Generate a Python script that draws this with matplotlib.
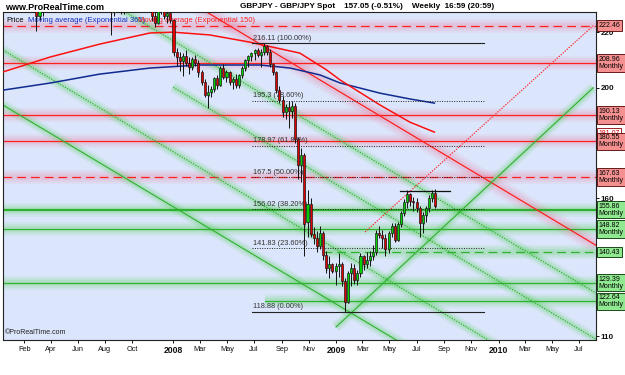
import matplotlib
matplotlib.use('Agg')
import matplotlib.pyplot as plt
import matplotlib.transforms as mtrans
import matplotlib.dates as mdates
import numpy as np
import pandas as pd

plt.rcParams['font.family'] = ['Liberation Sans', 'DejaVu Sans']

# ---------------- data ----------------
week_start = '2006-12-18'
opens = [231.0, 232.5, 233.0, 232.0, 236.5, 240.0, 237.5, 238.5, 235.5, 236.0,
         234.0, 226.0, 228.5, 229.5, 231.5, 233.0, 234.5, 236.0, 237.0, 236.5,
         238.5, 239.5, 238.5, 240.5, 242.5, 242.0, 244.5, 245.5, 247.0, 248.5,
         250.0, 248.5, 240.5, 238.0, 235.5, 227.5, 231.5, 229.5, 228.5, 230.5,
         233.5, 235.0, 237.5, 236.5, 232.0, 235.0, 236.5, 229.5, 226.0, 223.5,
         228.0, 230.0, 226.0, 227.0, 224.5,
         213.0, 211.0, 209.5, 211.5, 209.0, 207.5, 210.5, 209.0, 205.5, 202.0,
         197.5, 198.5, 199.5, 203.5, 201.0, 207.0, 204.0, 205.5, 202.0, 203.0,
         201.0, 204.5, 207.0, 210.0, 211.5, 212.5, 213.5, 212.0, 213.0, 215.0,
         213.0, 208.5, 205.5, 199.0, 195.5, 191.0, 193.0, 191.5, 193.5, 181.5,
         172.0, 175.5, 151.5, 158.0, 147.0, 145.5, 142.5, 147.5, 139.5, 134.5,
         136.0, 133.5, 135.5, 136.0, 130.0, 122.5, 133.0, 134.5, 130.5, 133.0,
         139.0, 136.0, 137.5, 139.0, 140.5, 147.5, 146.5, 145.5, 141.5, 147.5,
         150.0, 145.0, 150.5, 154.5, 158.5, 161.5, 159.0, 158.5, 156.5, 151.0,
         154.0, 156.5, 160.0, 162.0]
highs = [233.5, 234.0, 234.5, 237.0, 241.0, 240.5, 239.5, 239.5, 237.5, 238.5,
         234.5, 229.5, 230.5, 232.5, 234.0, 235.5, 237.0, 238.0, 238.0, 239.0,
         240.0, 241.0, 241.0, 243.0, 243.5, 245.0, 246.0, 247.5, 249.5, 251.0,
         251.1, 249.0, 243.5, 240.5, 236.0, 233.0, 233.5, 232.0, 231.0, 234.5,
         236.0, 238.5, 239.0, 237.5, 236.0, 238.0, 237.5, 230.5, 227.5, 229.0,
         231.5, 231.0, 228.0, 227.5, 225.0,
         214.5, 213.0, 212.5, 213.5, 211.0, 211.0, 212.0, 210.0, 206.5, 203.0,
         201.0, 200.5, 204.0, 204.5, 208.0, 208.5, 206.5, 206.0, 204.0, 205.0,
         205.0, 208.0, 210.5, 212.0, 213.0, 214.0, 214.5, 214.0, 216.11, 215.5,
         214.0, 209.0, 206.0, 200.5, 197.0, 194.0, 195.0, 195.0, 194.5, 182.0,
         178.0, 176.5, 163.0, 160.0, 149.5, 148.0, 150.0, 148.0, 141.0, 139.0,
         136.5, 136.5, 140.0, 137.0, 131.0, 133.5, 136.5, 136.0, 134.0, 140.0,
         139.5, 140.5, 141.0, 143.0, 148.5, 150.0, 148.5, 147.0, 148.0, 151.0,
         151.0, 151.5, 155.5, 159.5, 163.1, 162.0, 160.5, 160.0, 157.0, 155.0,
         157.0, 161.0, 163.1, 163.3]
lows = [230.0, 231.5, 230.5, 231.0, 235.5, 236.0, 235.0, 234.0, 233.5, 233.0,
        220.5, 224.5, 225.8, 228.5, 230.0, 232.0, 233.5, 234.0, 235.5, 235.5,
        237.0, 237.5, 237.0, 240.0, 240.5, 241.5, 243.5, 244.5, 246.0, 247.0,
        247.5, 239.5, 236.0, 233.0, 219.2, 226.0, 227.5, 226.5, 226.8, 229.5,
        232.5, 234.0, 235.5, 230.5, 230.0, 233.5, 228.0, 224.0, 222.0, 223.0,
        226.5, 225.0, 223.5, 223.5, 211.5,
        208.0, 206.0, 204.3, 208.0, 204.8, 206.5, 208.0, 204.0, 201.0, 196.5,
        192.6, 196.5, 198.5, 199.5, 200.5, 203.0, 202.0, 201.0, 199.5, 200.0,
        200.0, 203.5, 206.0, 207.5, 209.5, 210.0, 211.0, 207.5, 212.0, 212.0,
        207.5, 204.5, 198.0, 194.5, 189.5, 188.5, 185.5, 189.0, 180.0, 167.0,
        166.0, 139.0, 146.0, 146.0, 143.5, 140.5, 141.5, 137.5, 133.0, 131.0,
        133.0, 128.5, 131.5, 128.0, 118.88, 122.0, 128.0, 129.0, 128.5, 131.5,
        134.0, 134.5, 135.5, 137.5, 139.5, 145.5, 142.0, 139.0, 140.0, 146.0,
        144.0, 144.5, 149.5, 153.5, 156.5, 157.0, 155.5, 155.0, 146.0, 147.5,
        151.5, 155.0, 158.5, 156.5]
closes = [232.5, 233.0, 232.0, 236.5, 240.0, 237.5, 238.5, 235.5, 236.0, 234.0,
          226.0, 228.5, 229.5, 231.5, 233.0, 234.5, 236.0, 237.0, 236.5, 238.5,
          239.5, 238.5, 240.5, 242.5, 242.0, 244.5, 245.5, 247.0, 248.5, 250.0,
          248.5, 240.5, 238.0, 235.5, 227.5, 231.5, 229.5, 228.5, 230.5, 233.5,
          235.0, 237.5, 236.5, 232.0, 235.0, 236.5, 229.5, 226.0, 223.5, 228.0,
          230.0, 226.0, 227.0, 224.5, 213.0,
          211.0, 209.5, 211.5, 209.0, 207.5, 210.5, 209.0, 205.5, 202.0, 197.5,
          198.5, 199.5, 203.5, 201.0, 207.0, 204.0, 205.5, 202.0, 203.0, 201.0,
          204.5, 207.0, 210.0, 211.5, 212.5, 213.5, 212.0, 213.0, 215.0, 213.0,
          208.5, 205.5, 199.0, 195.5, 191.0, 193.0, 191.5, 193.5, 181.5, 172.0,
          175.5, 150.5, 158.0, 147.0, 145.5, 142.5, 147.5, 139.5, 134.5, 136.0,
          133.5, 135.5, 136.0, 130.0, 122.5, 133.0, 134.5, 130.5, 133.0, 139.0,
          136.0, 137.5, 139.0, 140.5, 147.5, 146.5, 145.5, 141.5, 147.5, 150.0,
          145.0, 150.5, 154.5, 158.5, 161.5, 159.0, 158.5, 156.5, 151.0, 154.0,
          156.5, 160.0, 162.0, 157.05]

ema365_dates = ['2006-12-15', '2007-04-01', '2007-07-20', '2007-11-10', '2008-03-01',
                '2008-07-15', '2008-09-20', '2008-11-26', '2009-01-10', '2009-04-10',
                '2009-06-16', '2009-08-10']
ema365_vals = [199.1, 201.7, 204.9, 207.1, 208.2, 208.2, 207.1, 204.6, 201.7, 198.0,
               195.9, 194.4]
ema150_dates = ['2006-12-15', '2007-03-31', '2007-07-21', '2007-11-10', '2008-01-01',
                '2008-03-23', '2008-06-21', '2008-10-12', '2008-12-11', '2009-01-10',
                '2009-04-10', '2009-06-16', '2009-08-10']
ema150_vals = [205.7, 211.1, 215.8, 219.8, 220.1, 219.1, 216.5, 212.5, 206.4, 202.8,
               193.7, 187.5, 183.9]

red_levels = [222.46, 208.96, 190.13, 180.55, 167.63]
red_dashed = [True, False, False, False, True]
red_tags = ['222.46', '208.96\nMonthly', '190.13\nMonthly', '180.55\nMonthly', '167.63\nMonthly']
hidden_tag, hidden_tag_pos = '181.07', 183.4
green_levels = [155.86, 148.82, 140.43, 129.39, 122.64]
green_dashed = [False, False, True, False, False]
green_from = [None, None, '2008-12-03', None, '2008-07-26']
green_tags = ['155.86\nMonthly', '148.82\nMonthly', '140.43', '129.39\nMonthly', '122.64\nMonthly']

fib_levels = [216.11, 195.3, 178.97, 167.5, 156.02, 141.83, 118.88]
fib_pcts = ['100.00%', '78.60%', '61.80%', '50.00%', '38.20%', '23.60%', '0.00%']
fib_solid = [True, False, False, False, False, False, True]
fib_from, fib_to = '2008-06-26', '2009-11-30'

resist_level = 162.7
resist_from, resist_to = '2009-05-25', '2009-09-15'

# trend lines: start date, start price, end date, end price
trend_d0 = ['2008-02-08', '2009-03-07', '2009-01-01', '2006-12-15', '2006-12-15', '2006-12-15', '2008-01-01']
trend_p0 = [231.0, 147.7, 113.3, 193.7, 213.6, 253.8, 200.2]
trend_d1 = ['2010-08-08', '2010-08-02', '2010-08-02', '2010-08-15', '2010-08-15', '2010-08-15', '2010-08-15']
trend_p1 = [142.9, 222.46, 200.0, 64.7, 84.6, 124.9, 108.2]
trend_kind = ['red', 'reddot', 'green', 'green', 'greendot', 'greendot', 'greendot']

xtick_dates = ['2007-02-01', '2007-04-01', '2007-06-01', '2007-08-01', '2007-10-01',
               '2008-01-01', '2008-03-01', '2008-05-01', '2008-07-01', '2008-09-01', '2008-11-01',
               '2009-01-01', '2009-03-01', '2009-05-01', '2009-07-01', '2009-09-01', '2009-11-01',
               '2010-01-01', '2010-03-01', '2010-05-01', '2010-07-01']
xtick_labels = ['Feb', 'Apr', 'Jun', 'Aug', 'Oct', '2008', 'Mar', 'May', 'Jul', 'Sep', 'Nov',
                '2009', 'Mar', 'May', 'Jul', 'Sep', 'Nov', '2010', 'Mar', 'May', 'Jul']
ytick_vals = [110, 120, 130, 140, 150, 160, 170, 180, 190, 200, 210, 220]
ytick_shown = [110, 160, 200, 210, 220]

x_lim = ('2006-12-15', '2010-08-08')
y_lim = (108.6, 227.4)

# ---------------- figure ----------------
fig = plt.figure(figsize=(6.25, 3.75), dpi=100)
fig.patch.set_facecolor('white')
ax = fig.add_axes([3/625, 1-340/375, 593/625, 328/375])
ax.set_facecolor('#dbe5fb')

D = lambda s: mdates.date2num(pd.Timestamp(s))
ax.set_xlim(D(x_lim[0]), D(x_lim[1]))
ax.set_ylim(*y_lim)
x0, x1 = ax.get_xlim()

RED, RGLOW = '#ff2020', '#f07090'
GRN, GGLOW = '#30b030', '#40d040'

def glow_line(xs, ys, color, glow, dashes=None, lw=1.0, gl=1.0):
    for w, a in [(10, 0.08), (7, 0.10), (4, 0.14)]:
        ax.plot(xs, ys, color=glow, lw=w * gl, alpha=a, solid_capstyle='butt', zorder=1)
    ln, = ax.plot(xs, ys, color=color, lw=lw, zorder=2)
    if dashes:
        ln.set_dashes(dashes)

for lev, dsh in zip(red_levels, red_dashed):
    glow_line([x0, x1], [lev, lev], RED, RGLOW, dashes=(7, 4) if dsh else None, lw=0.9)
for lev, dsh, st in zip(green_levels, green_dashed, green_from):
    xs = D(st) if st else x0
    lw = 1.6 if lev == green_levels[0] else 0.9
    glow_line([xs, x1], [lev, lev], GRN, GGLOW, dashes=(7, 4) if dsh else None, lw=lw)

for d0, p0, d1, p1, k in zip(trend_d0, trend_p0, trend_d1, trend_p1, trend_kind):
    if k == 'red':
        glow_line([D(d0), D(d1)], [p0, p1], RED, RGLOW, lw=0.9, gl=1.2)
    elif k == 'reddot':
        ln, = ax.plot([D(d0), D(d1)], [p0, p1], color=RED, lw=0.8, zorder=2)
        ln.set_dashes((1.2, 1.2))
    elif k == 'green':
        glow_line([D(d0), D(d1)], [p0, p1], GRN, GGLOW, lw=0.8, gl=0.8)
    else:
        glow_line([D(d0), D(d1)], [p0, p1], GRN, GGLOW, dashes=(1.2, 1.2), lw=0.8, gl=0.8)

# moving averages
ax.plot([D(d) for d in ema365_dates], ema365_vals, color='#102a90', lw=1.1, zorder=3)
ax.plot([D(d) for d in ema150_dates], ema150_vals, color='#ff1010', lw=1.1, zorder=3)

# fibonacci
for lev, pct, solid in zip(fib_levels, fib_pcts, fib_solid):
    ln, = ax.plot([D(fib_from), D(fib_to)], [lev, lev], color='#222222', lw=0.8 if solid else 0.7, zorder=4)
    if not solid:
        ln.set_dashes((1.0, 1.5))
    lab = f'{lev:g} ({pct})'
    ax.text(D(fib_from) + 3, lev + 0.5, lab, fontsize=5.3, color='#333333', va='bottom', ha='left', zorder=4)

ax.plot([D(resist_from), D(resist_to)], [resist_level, resist_level], color='#111111', lw=0.9, zorder=4)

# candles
wd = np.array([D(d) for d in pd.date_range(week_start, periods=len(opens), freq='7D')]) + 2
o, h, l, c = map(np.array, (opens, highs, lows, closes))
up = c >= o
ax.bar(wd + 1.8, np.abs(c - o), bottom=np.minimum(o, c) - 0.8, width=4.2,
       color='#a8a8b0', edgecolor='none', zorder=4.5)
ax.vlines(wd, l, h, color='#111111', lw=0.7, zorder=5)
ax.bar(wd, np.maximum(np.abs(c - o), 0.2), bottom=np.minimum(o, c), width=4.6,
       color=np.where(up, '#00d000', '#e00000'), edgecolor='#111111', linewidth=0.45, zorder=6)

# legend-ish labels inside top-left
ax.text(0.006, 0.985, 'Price', transform=ax.transAxes, fontsize=5.5, va='top', color='black', zorder=3.5)
ax.text(0.042, 0.985, 'Moving average (Exponential 365)', transform=ax.transAxes, fontsize=5.5,
        va='top', color='#1030c0', zorder=3.5)
ax.text(0.228, 0.985, 'Moving average (Exponential 150)', transform=ax.transAxes, fontsize=5.5,
        va='top', color='#ff2020', zorder=3.5)
ax.text(0.004, 0.012, '©ProRealTime.com', transform=ax.transAxes, fontsize=5, va='bottom', color='#222222')

# axes styling
for s in ax.spines.values():
    s.set_color('#222222')
    s.set_linewidth(0.8)
ax.yaxis.tick_right()
ax.set_yticks(ytick_vals)
ax.set_yticklabels([str(v) if v in ytick_shown else '' for v in ytick_vals], fontsize=5.8, fontweight='bold')
ax.tick_params(axis='y', length=2.5, width=0.7, pad=0.8, colors='#111111')
ax.set_xticks([D(d) for d in xtick_dates])
ax.set_xticklabels(xtick_labels, fontsize=5.3)
for t in ax.get_xticklabels():
    if t.get_text().isdigit():
        t.set_fontweight('bold')
        t.set_fontsize(6.2)
ax.tick_params(axis='x', length=2.5, width=0.7, pad=2, colors='#111111')

# right-side level tags
tr = mtrans.blended_transform_factory(ax.transAxes, ax.transData)
for lev, tag in zip(red_levels, red_tags):
    ax.text(1.004, lev, tag, transform=tr, fontsize=5.0, va='center', ha='left', linespacing=1.0,
            bbox=dict(boxstyle='square,pad=0.25', fc='#f59090', ec='#500000', lw=0.6),
            zorder=11 if tag.startswith('180') else 10, clip_on=False)
ax.text(1.004, hidden_tag_pos, hidden_tag, transform=tr, fontsize=5.0, va='center', ha='left', color='#d00000',
        bbox=dict(boxstyle='square,pad=0.25', fc='#ffffff', ec='#900000', lw=0.6), zorder=9, clip_on=False)
for lev, tag in zip(green_levels, green_tags):
    ax.text(1.004, lev, tag, transform=tr, fontsize=5.0, va='center', ha='left', linespacing=1.0,
            bbox=dict(boxstyle='square,pad=0.25', fc='#90e890', ec='#003000', lw=0.6),
            zorder=10, clip_on=False)

# header
fig.text(5/625, 1-7/375, 'www.ProRealTime.com', fontsize=6.5, fontweight='bold', va='center', ha='left')
fig.text(240/625, 1-7/375, 'GBPJPY - GBP/JPY Spot    157.05 (-0.51%)    Weekly  16:59 (20:59)',
         fontsize=5.9, fontweight='bold', va='center', ha='left')

fig.savefig('out.png', dpi=100, facecolor='white')
